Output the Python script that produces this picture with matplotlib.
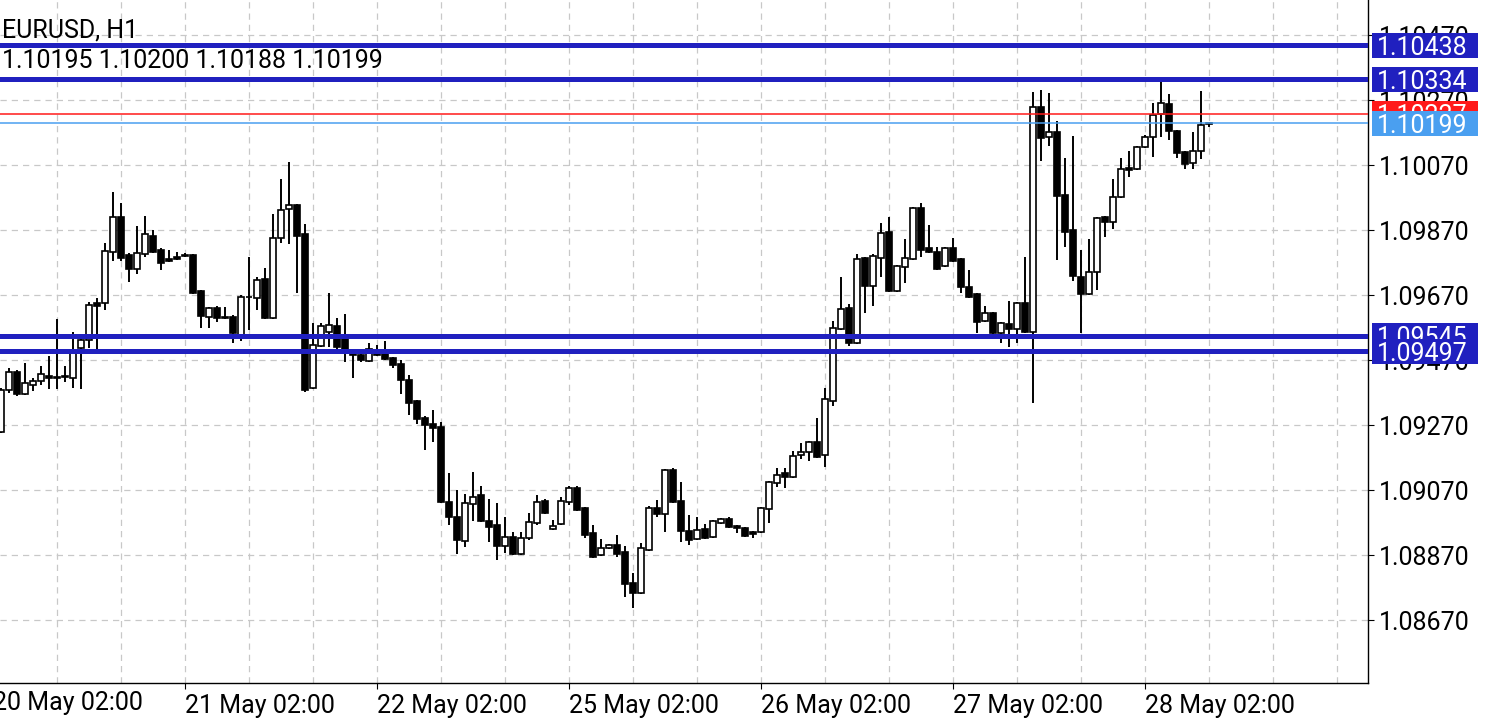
import numpy as np
import matplotlib
matplotlib.use("Agg")
import matplotlib.pyplot as plt
from matplotlib.patches import Rectangle

plt.rcParams['font.family'] = ['Roboto', 'DejaVu Sans']

symbol = "EURUSD, H1"
ohlcText = "1.10195 1.10200 1.10188 1.10199"

# hourly candles, first visible one is 20 May 03:00
opens = [
    1.09249, 1.09378, 1.09433, 1.09366, 1.09393, 1.09406, 1.09421, 1.09418,
    1.09421, 1.09415, 1.09507, 1.09532, 1.09646, 1.09646, 1.09803, 1.09910,
    1.09793, 1.09750, 1.09796, 1.09852, 1.09809, 1.09781, 1.09787, 1.09793,
    1.09793, 1.09683, 1.09603, 1.09630, 1.09603, 1.09603, 1.09541, 1.09664,
    1.09661, 1.09720, 1.09600, 1.09846, 1.09935, 1.09947, 1.09858, 1.09384,
    1.09513, 1.09556, 1.09575, 1.09544, 1.09498, 1.09486, 1.09467, 1.09501,
    1.09489, 1.09476, 1.09458, 1.09409, 1.09344, 1.09292, 1.09273, 1.09264,
    1.09033, 1.08987, 1.08913, 1.09027, 1.09055, 1.08975, 1.08963, 1.08898,
    1.08926, 1.08873, 1.08923, 1.08969, 1.09036, 1.08950, 1.08966, 1.09033,
    1.09076, 1.09015, 1.08938, 1.08870, 1.08892, 1.08901, 1.08879, 1.08784,
    1.08753, 1.08886, 1.09015, 1.08996, 1.09132, 1.09036, 1.08944, 1.08919,
    1.08950, 1.08926, 1.08969, 1.08981, 1.08959, 1.08953, 1.08941, 1.08941,
    1.09012, 1.09092, 1.09123, 1.09110, 1.09178, 1.09187, 1.09218, 1.09178,
    1.09344, 1.09566, 1.09630, 1.09523, 1.09784, 1.09698, 1.09784, 1.09864,
    1.09683, 1.09756, 1.09781, 1.09938, 1.09815, 1.09803, 1.09760, 1.09815,
    1.09781, 1.09695, 1.09673, 1.09590, 1.09615, 1.09553, 1.09581, 1.09566,
    1.09646, 1.09556, 1.10249, 1.10156, 1.10172, 1.09978, 1.09870, 1.09726,
    1.09673, 1.09741, 1.09910, 1.09895, 1.09972, 1.10061, 1.10058, 1.10126,
    1.10156, 1.10227, 1.10258, 1.10175, 1.10110, 1.10076, 1.10113, 1.10195,
]
highs = [
    1.09384, 1.09446, 1.09440, 1.09461, 1.09415, 1.09452, 1.09483, 1.09596,
    1.09452, 1.09556, 1.09538, 1.09649, 1.09661, 1.09830, 1.09987, 1.09953,
    1.09800, 1.09883, 1.09913, 1.09870, 1.09815, 1.09809, 1.09803, 1.09800,
    1.09796, 1.09686, 1.09633, 1.09636, 1.09633, 1.09609, 1.09670, 1.09787,
    1.09726, 1.09753, 1.09920, 1.10027, 1.10080, 1.09950, 1.09889, 1.09584,
    1.09584, 1.09676, 1.09600, 1.09612, 1.09504, 1.09492, 1.09523, 1.09516,
    1.09529, 1.09479, 1.09470, 1.09424, 1.09347, 1.09298, 1.09316, 1.09280,
    1.09123, 1.09070, 1.09058, 1.09126, 1.09083, 1.09043, 1.09030, 1.08987,
    1.08941, 1.08941, 1.09000, 1.09055, 1.09043, 1.08978, 1.09049, 1.09083,
    1.09083, 1.09018, 1.08963, 1.08919, 1.08904, 1.08932, 1.08898, 1.08815,
    1.08907, 1.09021, 1.09039, 1.09135, 1.09138, 1.09095, 1.08993, 1.08987,
    1.08966, 1.08978, 1.08984, 1.08987, 1.08963, 1.08956, 1.08944, 1.09018,
    1.09098, 1.09138, 1.09138, 1.09190, 1.09215, 1.09221, 1.09292, 1.09384,
    1.09590, 1.09726, 1.09643, 1.09796, 1.09787, 1.09796, 1.09892, 1.09910,
    1.09763, 1.09843, 1.09941, 1.09953, 1.09886, 1.09818, 1.09818, 1.09846,
    1.09784, 1.09747, 1.09676, 1.09636, 1.09618, 1.09587, 1.09652, 1.09649,
    1.09787, 1.10295, 1.10301, 1.10292, 1.10206, 1.10092, 1.10160, 1.09809,
    1.09843, 1.09910, 1.09913, 1.10027, 1.10092, 1.10113, 1.10129, 1.10163,
    1.10261, 1.10340, 1.10289, 1.10178, 1.10113, 1.10172, 1.10298, 1.10200,
]
lows = [
    1.09246, 1.09369, 1.09360, 1.09363, 1.09375, 1.09393, 1.09381, 1.09381,
    1.09403, 1.09384, 1.09381, 1.09507, 1.09495, 1.09624, 1.09775, 1.09775,
    1.09710, 1.09735, 1.09787, 1.09800, 1.09747, 1.09772, 1.09778, 1.09787,
    1.09673, 1.09569, 1.09569, 1.09587, 1.09596, 1.09523, 1.09529, 1.09563,
    1.09624, 1.09596, 1.09596, 1.09830, 1.09827, 1.09676, 1.09372, 1.09381,
    1.09510, 1.09510, 1.09501, 1.09464, 1.09415, 1.09464, 1.09464, 1.09483,
    1.09470, 1.09446, 1.09366, 1.09301, 1.09273, 1.09193, 1.09218, 1.09030,
    1.08963, 1.08873, 1.08895, 1.08975, 1.08972, 1.08910, 1.08855, 1.08876,
    1.08870, 1.08870, 1.08916, 1.08963, 1.08996, 1.08947, 1.08963, 1.09024,
    1.09006, 1.08923, 1.08862, 1.08867, 1.08889, 1.08864, 1.08741, 1.08707,
    1.08750, 1.08883, 1.08987, 1.08941, 1.09030, 1.08910, 1.08901, 1.08916,
    1.08919, 1.08923, 1.08966, 1.08953, 1.08938, 1.08926, 1.08923, 1.08938,
    1.08969, 1.09080, 1.09076, 1.09107, 1.09166, 1.09160, 1.09169, 1.09141,
    1.09329, 1.09563, 1.09513, 1.09520, 1.09615, 1.09636, 1.09725, 1.09680,
    1.09680, 1.09707, 1.09778, 1.09787, 1.09800, 1.09747, 1.09756, 1.09772,
    1.09676, 1.09661, 1.09553, 1.09587, 1.09535, 1.09523, 1.09510, 1.09523,
    1.09553, 1.09338, 1.10083, 1.10129, 1.09778, 1.09818, 1.09713, 1.09553,
    1.09670, 1.09686, 1.09849, 1.09873, 1.09969, 1.10033, 1.10055, 1.10123,
    1.10095, 1.10156, 1.10147, 1.10092, 1.10058, 1.10058, 1.10089, 1.10188,
]
closes = [
    1.09378, 1.09433, 1.09366, 1.09400, 1.09406, 1.09427, 1.09415, 1.09416,
    1.09418, 1.09501, 1.09532, 1.09640, 1.09636, 1.09806, 1.09910, 1.09784,
    1.09750, 1.09800, 1.09858, 1.09803, 1.09769, 1.09775, 1.09781, 1.09790,
    1.09676, 1.09606, 1.09630, 1.09600, 1.09600, 1.09553, 1.09664, 1.09665,
    1.09716, 1.09600, 1.09846, 1.09932, 1.09947, 1.09852, 1.09378, 1.09516,
    1.09575, 1.09578, 1.09510, 1.09492, 1.09486, 1.09470, 1.09504, 1.09486,
    1.09473, 1.09455, 1.09409, 1.09338, 1.09289, 1.09270, 1.09261, 1.09033,
    1.08987, 1.08916, 1.09030, 1.09049, 1.08975, 1.08956, 1.08898, 1.08926,
    1.08873, 1.08923, 1.08972, 1.09033, 1.09000, 1.08959, 1.09036, 1.09076,
    1.09009, 1.08932, 1.08864, 1.08892, 1.08901, 1.08873, 1.08781, 1.08753,
    1.08892, 1.09015, 1.08996, 1.09132, 1.09033, 1.08944, 1.08916, 1.08947,
    1.08923, 1.08975, 1.08981, 1.08956, 1.08953, 1.08929, 1.08935, 1.09015,
    1.09095, 1.09116, 1.09110, 1.09175, 1.09187, 1.09218, 1.09172, 1.09350,
    1.09569, 1.09627, 1.09523, 1.09781, 1.09698, 1.09790, 1.09861, 1.09683,
    1.09760, 1.09784, 1.09938, 1.09809, 1.09803, 1.09750, 1.09815, 1.09775,
    1.09695, 1.09664, 1.09587, 1.09615, 1.09553, 1.09584, 1.09566, 1.09646,
    1.09556, 1.10249, 1.10153, 1.10172, 1.09975, 1.09864, 1.09729, 1.09673,
    1.09741, 1.09907, 1.09895, 1.09972, 1.10058, 1.10055, 1.10126, 1.10156,
    1.10224, 1.10261, 1.10175, 1.10107, 1.10073, 1.10113, 1.10193, 1.10199,
]

dayLabels = ["20 May 02:00", "21 May 02:00", "22 May 02:00", "25 May 02:00",
             "26 May 02:00", "27 May 02:00", "28 May 02:00"]
priceTicks = [1.08670, 1.08870, 1.09070, 1.09270, 1.09470, 1.09670,
              1.09870, 1.10070, 1.10270, 1.10470]
levels = [1.10438, 1.10334, 1.09545, 1.09497]
askPrice = 1.10227
bidPrice = 1.10199

LEVEL_BLUE = '#2020bf'
BID_BLUE = '#4a9ff0'
ASK_RED = '#ff1a1a'
FS = 18

fig = plt.figure(figsize=(14.96, 7.2), dpi=100)
ax = fig.add_axes([0, 37 / 720, 1368 / 1496, 683 / 720])

o = np.array(opens)
h = np.array(highs)
l = np.array(lows)
c = np.array(closes)
idx = np.arange(len(o))
up = c >= o

# wicks then bodies on top
ax.vlines(idx, l, h, color='black', lw=1.4, zorder=3)
bodyLow = np.minimum(o, c)
bodyH = np.maximum(np.abs(c - o), 0.000012)
ax.bar(idx[up], bodyH[up], 0.68, bottom=bodyLow[up], facecolor='white',
       edgecolor='black', lw=1.2, zorder=4)
ax.bar(idx[~up], bodyH[~up], 0.68, bottom=bodyLow[~up], facecolor='black',
       edgecolor='black', lw=1.2, zorder=4)

for lv in levels:
    ax.axhline(lv, color=LEVEL_BLUE, lw=3.6, zorder=5)
ax.axhline(askPrice, color=ASK_RED, lw=1.1, zorder=5)
ax.axhline(bidPrice, color=BID_BLUE, lw=1.1, zorder=5)

ax.set_xlim(-0.125, 170.875)
ax.set_ylim(1.084762, 1.105777)

# grid every 8 hours, price grid every 20 pips
ax.set_xticks(np.arange(7, 170, 8), minor=True)
dayPos = [-1 + 24 * i for i in range(len(dayLabels))]
ax.set_xticks(dayPos[1:], dayLabels[1:])
for lab in ax.get_xticklabels():
    lab.set_ha('left')
ax.text(dayPos[0], -0.011, dayLabels[0], transform=ax.get_xaxis_transform(),
        ha='left', va='top', fontsize=FS, clip_on=False)
ax.set_yticks(priceTicks, ["%.5f" % p for p in priceTicks])
ax.yaxis.tick_right()

gridStyle = dict(color='#c8c8c8', lw=0.9, linestyle=(0, (5, 4)))
ax.grid(True, which='both', axis='x', **gridStyle)
ax.grid(True, which='major', axis='y', **gridStyle)
ax.set_axisbelow(True)

ax.tick_params(axis='x', which='major', direction='out', length=4, pad=4,
               labelsize=FS, colors='black')
ax.tick_params(axis='x', which='minor', length=0)
ax.tick_params(axis='y', direction='out', length=4, pad=4, labelsize=FS,
               colors='black')

for side in ['top', 'left']:
    ax.spines[side].set_visible(False)
for side in ['right', 'bottom']:
    ax.spines[side].set_color('black')
    ax.spines[side].set_linewidth(1.0)

# price labels on the right axis
boxH = 25 / 32500.0
boxX = 1372 / 1368.0
boxW = 106 / 1368.0
textX = 1377 / 1368.0


def priceLabel(value, color, z):
    rect = Rectangle((boxX, value - boxH / 2), boxW, boxH, transform=ax.get_yaxis_transform(),
                     facecolor=color, edgecolor='none', clip_on=False, zorder=z)
    ax.add_patch(rect)
    ax.text(textX, value, "%.5f" % value, transform=ax.get_yaxis_transform(),
            color='white', fontsize=FS, ha='left', va='center_baseline',
            clip_on=False, zorder=z + 0.1)


priceLabel(levels[0], LEVEL_BLUE, 6)
priceLabel(levels[1], LEVEL_BLUE, 6)
priceLabel(askPrice, ASK_RED, 7)
priceLabel(bidPrice, BID_BLUE, 8)
priceLabel(levels[2], LEVEL_BLUE, 6)
priceLabel(levels[3], LEVEL_BLUE, 7)

ax.text(0.0015, 1 - 28 / 683, symbol, transform=ax.transAxes, fontsize=FS,
        ha='left', va='center_baseline', zorder=9)
ax.text(0.0015, 1 - 59 / 683, ohlcText, transform=ax.transAxes, fontsize=FS,
        ha='left', va='center_baseline', zorder=9)

fig.savefig('out.png', dpi=100)
